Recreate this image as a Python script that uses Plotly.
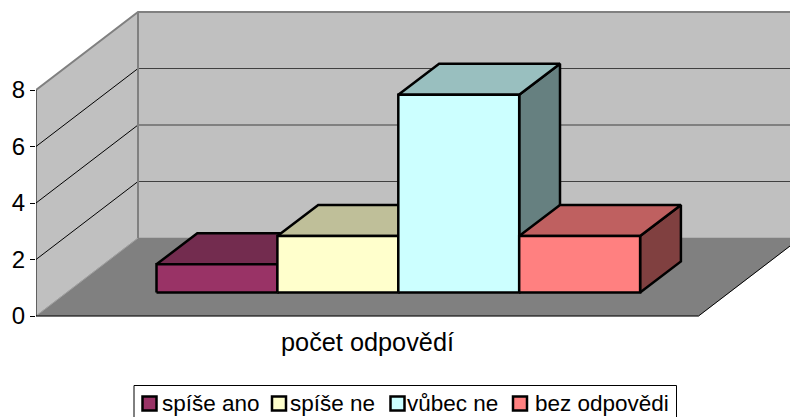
import plotly.graph_objects as go

# Data
categories = ["počet odpovědí"]
series_names = ["spíše ano", "spíše ne", "vůbec ne", "bez odpovědi"]
series_values = [1, 2, 7, 2]
front_colors = ["#993366", "#FFFFCC", "#CCFFFF", "#FF8080"]
top_colors = ["#732C4F", "#BFBF99", "#99BFBF", "#BF6060"]
side_colors = ["#4D1A33", "#808066", "#668080", "#804040"]
y_ticks = [0, 2, 4, 6, 8]

# Chart geometry (oblique 3-D projection in axis units)
W, H = 790, 417
LEFT, ZERO_Y, PX_X, PX_Y = 36, 316, 662.5, 28.25
DEPTH_X, DEPTH_Y = 102 / PX_X, 78 / PX_Y
BAR_W = 120.9 / PX_X
GAP = 89.9 / PX_X
D0, D1 = 0.30, 0.70
YMAX = 8


def proj(x, y, d=0.0):
    return x + d * DEPTH_X, y + d * DEPTH_Y


def poly(pts, fill=None, line="black", width=2.5, name=None):
    xs, ys = zip(*pts)
    if fill:
        xs, ys = xs + xs[:1], ys + ys[:1]
    return go.Scatter(
        x=list(xs), y=list(ys), mode="lines", cliponaxis=False, showlegend=False,
        fill="toself" if fill else "none", fillcolor=fill, name=name, hoverinfo="skip",
        line=dict(color=line, width=width),
    )


fig = go.Figure()

# Walls and floor
fig.add_trace(poly([proj(0, 0), proj(0, 0, 1), proj(0, YMAX, 1), proj(0, YMAX)], "#C0C0C0", "#C0C0C0", 0.5))
fig.add_trace(poly([proj(0, 0, 1), proj(1, 0, 1), proj(1, YMAX, 1), proj(0, YMAX, 1)], "#C0C0C0", "#C0C0C0", 0.5))
fig.add_trace(poly([proj(0, 0), proj(1, 0), proj(1, 0, 1), proj(0, 0, 1)], "#808080", "#808080", 0.5))

# Gridlines
for v in y_ticks[1:-1]:
    fig.add_trace(poly([proj(0, v), proj(0, v, 1)], None, "black", 1))
    fig.add_trace(poly([proj(0, v, 1), proj(1, v, 1)], None, "#404040", 1.2))

# Wall edges
fig.add_trace(poly([proj(0, YMAX), proj(0, YMAX, 1), proj(1, YMAX, 1)], None, "#808080", 2))
fig.add_trace(poly([proj(0, 0), proj(0, 0, 1)], None, "#A0A0A0", 1))
fig.add_trace(poly([proj(0, 0, 1), proj(0, YMAX, 1)], None, "#808080", 2))

# Axis lines
fig.add_trace(poly([proj(0, 0), proj(0, YMAX)], None, "black", 1))
fig.add_trace(poly([proj(0, 0), proj(1, 0)], None, "black", 1.2))
fig.add_trace(poly([proj(1, 0), proj(1, 0, 1)], None, "black", 1))

# Bars
for i, (nm, v) in enumerate(zip(series_names, series_values)):
    x0 = GAP + i * BAR_W
    x1 = x0 + BAR_W
    fig.add_trace(poly([proj(x1, 0, D0), proj(x1, 0, D1), proj(x1, v, D1), proj(x1, v, D0)], side_colors[i]))
    fig.add_trace(poly([proj(x0, v, D0), proj(x1, v, D0), proj(x1, v, D1), proj(x0, v, D1)], top_colors[i]))
    fig.add_trace(poly([proj(x0, 0, D0), proj(x1, 0, D0), proj(x1, v, D0), proj(x0, v, D0)], front_colors[i], name=nm))

annotations = [dict(
    x=0.5, y=-0.92, xref="x", yref="y", text=categories[0], showarrow=False,
    font=dict(family="Liberation Sans", size=25.3, color="black"),
)]

# Legend box
LEG_SWATCH = [142.5, 272, 390.5, 513]
LEG_TEXT = [160.5, 289, 406, 534]
shapes = [dict(type="rect", xref="paper", yref="paper", x0=(134 - LEFT) / (W - LEFT), x1=(676.5 - LEFT) / (W - LEFT),
               y0=-0.01, y1=1 - 385.5 / H, line=dict(color="black", width=1), fillcolor="white")]
for s, t, nm, c in zip(LEG_SWATCH, LEG_TEXT, series_names, front_colors):
    shapes.append(dict(type="rect", xref="paper", yref="paper", x0=(s - LEFT) / (W - LEFT), x1=(s + 14 - LEFT) / (W - LEFT),
                       y0=1 - 410.5 / H, y1=1 - 396.5 / H, line=dict(color="black", width=2.5), fillcolor=c))
    annotations.append(dict(x=(t - LEFT) / (W - LEFT), y=1 - 403 / H, xref="paper", yref="paper", text=nm,
                            xanchor="left", yanchor="middle", showarrow=False,
                            xshift=-1, font=dict(family="Liberation Sans", size=22.5, color="black")))

fig.update_layout(
    width=W, height=H, margin=dict(l=LEFT, r=0, t=0, b=0), paper_bgcolor="white", plot_bgcolor="white",
    showlegend=False, shapes=shapes, annotations=annotations,
    xaxis=dict(visible=False, range=[0, (W - LEFT) / PX_X], fixedrange=True),
    yaxis=dict(range=[(ZERO_Y - H) / PX_Y, ZERO_Y / PX_Y], tickvals=y_ticks, ticks="outside", ticklen=5, tickwidth=1,
               tickcolor="black", showgrid=False, zeroline=False, showline=False, fixedrange=True,
               tickfont=dict(family="Liberation Sans", size=24, color="black")),
)
fig.write_html("out.html", config={"displayModeBar": False}, post_script="document.body.style.margin='0';")
